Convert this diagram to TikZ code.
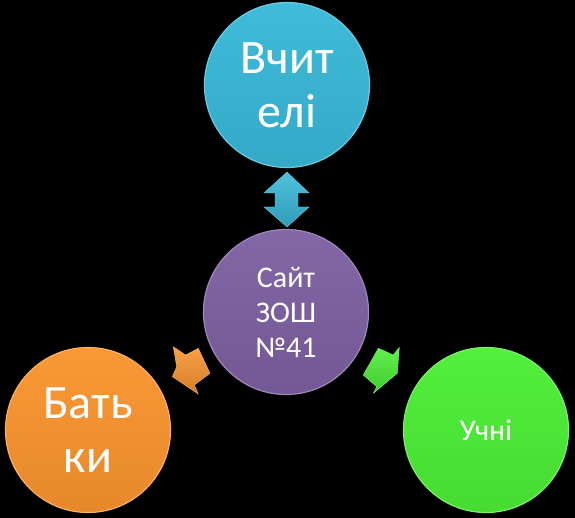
\documentclass[tikz,border=0pt]{standalone}
\usepackage{fontspec}
\setmainfont{Carlito}
\definecolor{cblue}{RGB}{56,184,216}
\definecolor{cpurple}{RGB}{126,96,162}
\definecolor{corange}{RGB}{250,148,46}
\definecolor{cgreen}{RGB}{76,238,54}
\tikzset{
  ball/.style={circle, minimum size=165pt, inner sep=0pt, text=white, align=center,
    top color=#1!96!white, bottom color=#1!92!black, draw=#1!75!white, line width=1.2pt},
  bigtxt/.style={font=\fontsize{48}{54}\selectfont},
  midtxt/.style={font=\fontsize{30}{35}\selectfont},
  arrowshape/.style={top color=#1!88!white, bottom color=#1!85!black, draw=#1!70!white, line width=0.4pt, line join=round}
}
\begin{document}
\begin{tikzpicture}[x=1pt,y=-1pt]
\fill[black] (0,0) rectangle (575,518);
\useasboundingbox (0,0) rectangle (575,518);
% circles
\node[ball=cblue, bigtxt] (teach) at (287,85) {Вчит\\елі};
\node[ball=cpurple, midtxt] (site) at (286,312) {Сайт\\ЗОШ\\№41};
\node[ball=corange, bigtxt] (par) at (88,430) {Бать\\ки};
\node[ball=cgreen, font=\fontsize{30}{36}\selectfont] (stud) at (486,430) {Учні};
% blue double arrow
\filldraw[arrowshape=cblue] (287,172) -- (309,193) -- (298,193) -- (298,207) -- (309,207)
  -- (287,227) -- (264,207) -- (275,207) -- (275,193) -- (264,193) -- cycle;
% orange arrow
\filldraw[arrowshape=corange] (173.3,346.7) -- (185.7,355) -- (198.3,348.3) -- (210,373.3)
  -- (194.3,385) -- (198.3,394) -- (172.3,376.7) -- (176.7,366.7) -- cycle;
% green arrow
\filldraw[arrowshape=cgreen] (378.3,348.3) -- (393.3,355) -- (399.3,347.3) -- (397.3,373.3)
  -- (383.3,385) -- (373.3,393.3) -- (376.7,386.7) -- (363.3,375) -- cycle;
\end{tikzpicture}
\end{document}
